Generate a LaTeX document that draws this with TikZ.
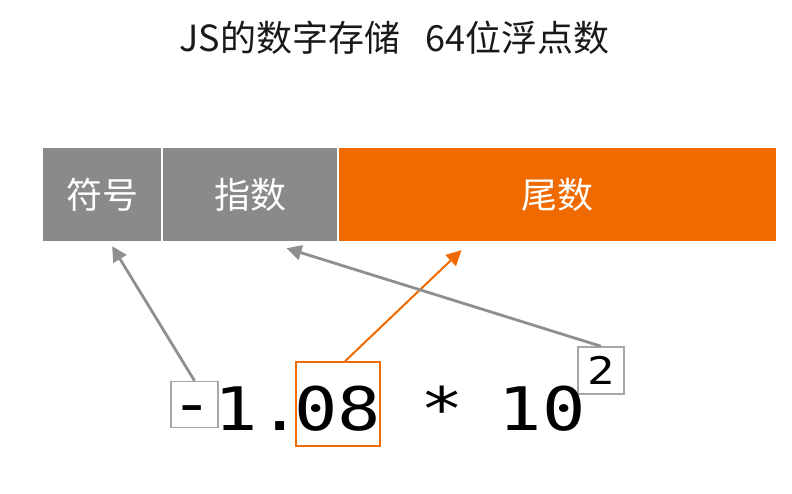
\documentclass[tikz,border=0pt]{standalone}
\usepackage{fontspec}
\newfontfamily\cjkfont{Noto Sans CJK SC}
\newfontfamily\numfont[FakeStretch = 1.2]{DejaVu Sans Mono}
\usetikzlibrary{positioning, arrows.meta}
\definecolor{bargray}{HTML}{8A8A8A}
\definecolor{barorange}{HTML}{EF6A00}
\definecolor{linegray}{HTML}{8F8F8F}
\definecolor{framegray}{HTML}{A6A6A6}

\begin{document}
\begin{tikzpicture}[x = 1pt, y = -1pt,
    fieldbox/.style = {rectangle, inner sep = 0pt, minimum height = 93pt, text = white,
        font = \cjkfont\fontsize{36}{40}\selectfont},
    digitnode/.style = {anchor = base, inner sep = 0pt, font = \numfont\fontsize{60}{64}\selectfont},
    markbox/.style = {rectangle, draw = framegray, line width = 1.5pt, inner sep = 0pt},
    pointer/.style = {draw = linegray, line width = 2.8pt, -{Triangle[length = 15pt, width = 15pt]}}]
    \useasboundingbox (0, 0) rectangle (792, 494);
    \node[font = \cjkfont\fontsize{36}{40}\selectfont, text = black!90] (title) at (394.5, 38) {JS的数字存储\hspace{0.7em}64位浮点数};
    \node[fieldbox, fill = bargray, minimum width = 118.5pt, anchor = west] (sign) at (42.7, 194.5) {符号};
    \node[fieldbox, fill = bargray, minimum width = 173.5pt, right = 1.5pt of sign] (exponent) {指数};
    \node[fieldbox, fill = barorange, minimum width = 436.8pt, right = 1.5pt of exponent] (mantissa) {尾数};
    \node[markbox, minimum width = 47pt, minimum height = 46pt] (signmark) at (194.5, 404.5) {};
    \node[markbox, draw = barorange, minimum width = 84pt, minimum height = 84pt] (fracmark) at (338, 404) {};
    \node[markbox, minimum width = 46pt, minimum height = 47pt, font = \numfont\fontsize{38}{40}\selectfont] (powmark) at (601, 370.5) {2};
    \foreach \ch/\x [count = \i] in {{\raisebox{6pt}{-}}/192, 1/236, ./280, 0/316.5, 8/359.5, */442, 1/520, 0/564}
        \node[digitnode] (d\i) at (\x, 430) {\ch};
    \draw[pointer] (signmark.north) -- ([shift = {(10, 5)}] sign.south);
    \draw[pointer, draw = barorange, line width = 2pt] ([xshift = 7pt] fracmark.north) -- ([shift = {(-95.6, 9)}] mantissa.south);
    \draw[pointer] (powmark.north) -- ([shift = {(36.5, 7)}] exponent.south);
\end{tikzpicture}
\end{document}
